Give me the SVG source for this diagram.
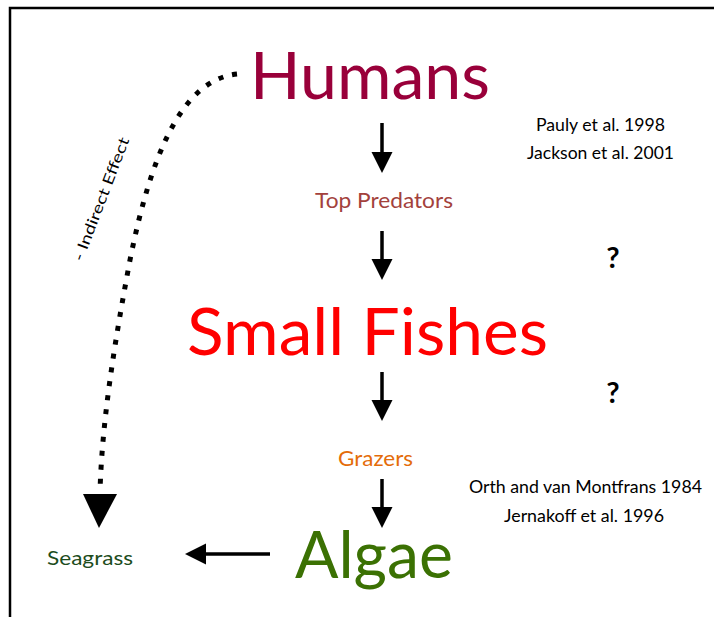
<svg xmlns="http://www.w3.org/2000/svg" width="714" height="617" viewBox="0 0 714 617">
<style>
  text { font-family: Lato, "Noto Sans", "Liberation Sans", sans-serif; }
  .big { font-size: 65px; }
  .mid { font-size: 21px; }
  .cite { font-size: 17.5px; fill: #000; }
  .q { font-size: 29px; font-weight: bold; fill: #000; }
  .arrow { stroke: #000; stroke-width: 3.5; fill: none; marker-end: url(#head); }
</style>
<defs>
  <marker id="head" markerUnits="userSpaceOnUse" viewBox="0 -11 21 22" refX="0" refY="0" markerWidth="21" markerHeight="22" orient="auto">
    <path d="M0,-10.5 L21,0 L0,10.5 z" fill="#000"/>
  </marker>
</defs>
<rect width="714" height="617" fill="#fff"/>
<path d="M10,617 V8 H714" fill="none" stroke="#000" stroke-width="2.5"/>

<g id="humans"><text class="big" x="250" y="99" textLength="240" lengthAdjust="spacingAndGlyphs" fill="#99003A">Humans</text></g>
<g id="top-predators"><text class="mid" x="315" y="208" textLength="138" lengthAdjust="spacingAndGlyphs" fill="#A3413C">Top Predators</text></g>
<g id="small-fishes"><text class="big" x="187" y="355" textLength="361" lengthAdjust="spacingAndGlyphs" fill="#FF0000">Small Fishes</text></g>
<g id="grazers"><text class="mid" x="338" y="466" textLength="75" lengthAdjust="spacingAndGlyphs" fill="#E46C0A">Grazers</text></g>
<g id="algae"><text class="big" x="295" y="578" textLength="158" lengthAdjust="spacingAndGlyphs" fill="#3B7103">Algae</text></g>
<g id="seagrass"><text x="47" y="565" font-size="20" textLength="86" lengthAdjust="spacingAndGlyphs" fill="#1D4D1D">Seagrass</text></g>

<g id="citations">
  <text class="cite" x="536" y="131" textLength="129" lengthAdjust="spacingAndGlyphs">Pauly et al. 1998</text>
  <text class="cite" x="527" y="159" textLength="147" lengthAdjust="spacingAndGlyphs">Jackson et al. 2001</text>
  <text class="cite" x="469" y="493" textLength="233" lengthAdjust="spacingAndGlyphs">Orth and van Montfrans 1984</text>
  <text class="cite" x="504" y="522" textLength="160" lengthAdjust="spacingAndGlyphs">Jernakoff et al.  1996</text>
  <text class="q" x="613" y="268" text-anchor="middle">?</text>
  <text class="q" x="613" y="403" text-anchor="middle">?</text>
</g>

<g id="connectors">
  <line class="arrow" x1="382" y1="123" x2="382" y2="152"/>
  <line class="arrow" x1="382" y1="231" x2="382" y2="259"/>
  <line class="arrow" x1="382" y1="372" x2="382" y2="400"/>
  <line class="arrow" x1="382" y1="479" x2="382" y2="507"/>
  <line class="arrow" x1="270" y1="554" x2="206" y2="554"/>
  <path d="M237,74 C180,80 150,160 130,260 C115,340 102,420 100,492" fill="none" stroke="#000" stroke-width="5" stroke-dasharray="5 9"/>
  <polygon points="83,494 117,494 99,528" fill="#000"/>
  <text x="106" y="201" font-size="15" text-anchor="middle" transform="rotate(-69 106 201)" textLength="131" lengthAdjust="spacingAndGlyphs" fill="#000">- Indirect  Effect</text>
</g>
</svg>
